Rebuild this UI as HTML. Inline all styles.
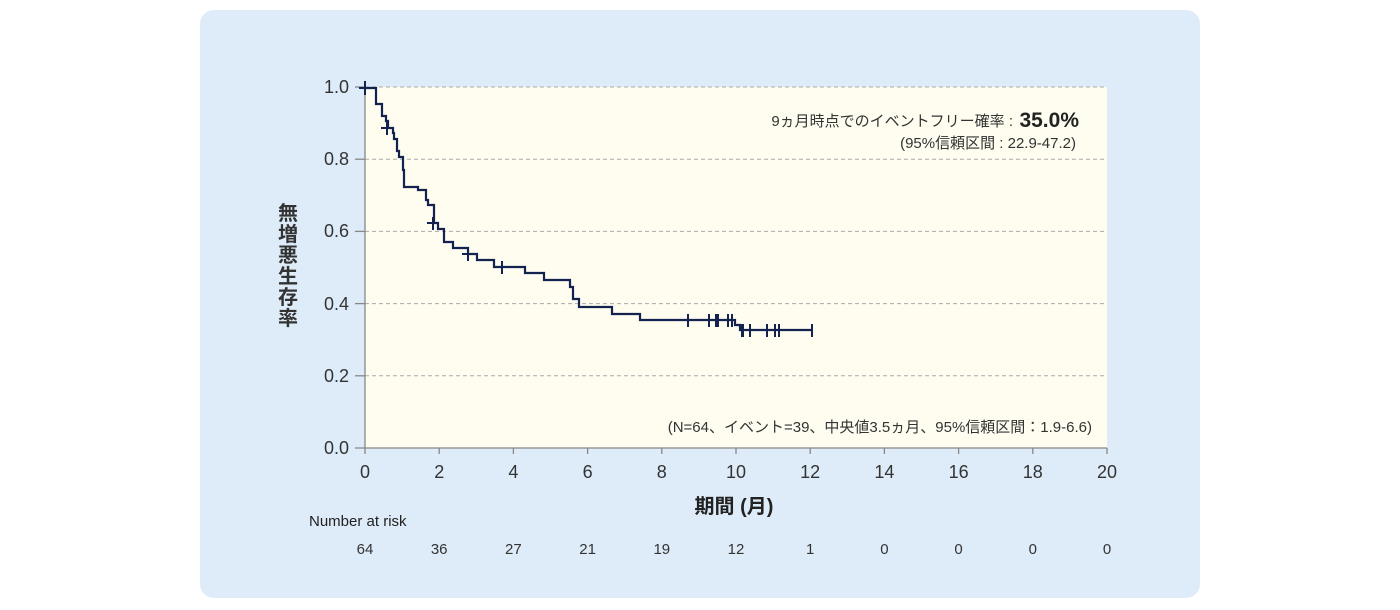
<!DOCTYPE html>
<html><head><meta charset="utf-8"><style>
html,body{margin:0;padding:0;background:#fff;}
svg{display:block;}
text{font-family:"Liberation Sans","Noto Sans CJK JP",sans-serif;fill:#333;}
</style></head><body>
<svg width="1400" height="610" viewBox="0 0 1400 610" xmlns="http://www.w3.org/2000/svg">
<rect x="200" y="10" width="1000" height="588" rx="14" fill="#deebf8"/>
<rect x="365" y="87" width="742" height="361" fill="#fefdf0"/>
<g stroke="#aaa" stroke-width="1" stroke-dasharray="4,3">
<line x1="365" y1="87" x2="1107" y2="87"/>
<line x1="365" y1="159.2" x2="1107" y2="159.2"/>
<line x1="365" y1="231.4" x2="1107" y2="231.4"/>
<line x1="365" y1="303.6" x2="1107" y2="303.6"/>
<line x1="365" y1="375.8" x2="1107" y2="375.8"/>
</g>
<g stroke="#888" stroke-width="1.3">
<line x1="365" y1="87" x2="365" y2="448"/>
<line x1="355" y1="448" x2="1107" y2="448"/>
<line x1="355" y1="87" x2="365" y2="87"/><line x1="355" y1="159.2" x2="365" y2="159.2"/><line x1="355" y1="231.4" x2="365" y2="231.4"/><line x1="355" y1="303.6" x2="365" y2="303.6"/><line x1="355" y1="375.8" x2="365" y2="375.8"/>
<line x1="365" y1="448" x2="365" y2="454"/><line x1="439.2" y1="448" x2="439.2" y2="454"/><line x1="513.4" y1="448" x2="513.4" y2="454"/><line x1="587.6" y1="448" x2="587.6" y2="454"/><line x1="661.8" y1="448" x2="661.8" y2="454"/><line x1="736" y1="448" x2="736" y2="454"/><line x1="810.2" y1="448" x2="810.2" y2="454"/><line x1="884.4" y1="448" x2="884.4" y2="454"/><line x1="958.6" y1="448" x2="958.6" y2="454"/><line x1="1032.8" y1="448" x2="1032.8" y2="454"/><line x1="1107" y1="448" x2="1107" y2="454"/>
</g>
<g font-size="18" text-anchor="end">
<text x="349" y="93">1.0</text><text x="349" y="165">0.8</text><text x="349" y="237">0.6</text><text x="349" y="310">0.4</text><text x="349" y="382">0.2</text><text x="349" y="454">0.0</text>
</g>
<g font-size="18" text-anchor="middle">
<text x="365" y="478">0</text><text x="439.2" y="478">2</text><text x="513.4" y="478">4</text><text x="587.6" y="478">6</text><text x="661.8" y="478">8</text><text x="736" y="478">10</text><text x="810.2" y="478">12</text><text x="884.4" y="478">14</text><text x="958.6" y="478">16</text><text x="1032.8" y="478">18</text><text x="1107" y="478">20</text>
</g>
<text x="734" y="513" font-size="20" font-weight="bold" text-anchor="middle" style="fill:#222">期間 (月)</text>
<g font-size="20" font-weight="bold" text-anchor="middle" style="fill:#222">
<text x="288" y="220">無</text><text x="288" y="241">増</text><text x="288" y="262">悪</text><text x="288" y="283">生</text><text x="288" y="304">存</text><text x="288" y="325">率</text>
</g>
<text x="309" y="526" font-size="15" style="fill:#222">Number at risk</text>
<g font-size="15" text-anchor="middle">
<text x="365" y="554">64</text><text x="439.2" y="554">36</text><text x="513.4" y="554">27</text><text x="587.6" y="554">21</text><text x="661.8" y="554">19</text><text x="736" y="554">12</text><text x="810.2" y="554">1</text><text x="884.4" y="554">0</text><text x="958.6" y="554">0</text><text x="1032.8" y="554">0</text><text x="1107" y="554">0</text>
</g>
<text x="1013" y="126" font-size="15" text-anchor="end">9ヵ月時点でのイベントフリー確率 :</text>
<text x="1079" y="127" font-size="21" font-weight="bold" text-anchor="end" style="fill:#222">35.0%</text>
<text x="1076" y="148" font-size="15" text-anchor="end">(95%信頼区間 : 22.9-47.2)</text>
<text x="1092" y="432" font-size="15" text-anchor="end">(N=64、イベント=39、中央値3.5ヵ月、95%信頼区間：1.9-6.6)</text>
<path fill="none" stroke="#13224f" stroke-width="2.2" d="M365,88 H376 V104 H382 V116 H386 V121 H388 V128 H393 V133 H394 V139 H397 V151 H399 V157 H403 V170 H404 V187 H418 V190 H426 V200 H428 V205 H434 V223 H438 V229 H444 V242 H453 V248 H468 V254 H477 V260 H494 V267 H525 V273 H544 V280 H570 V287 H573 V299 H579 V307 H612 V314 H640 V320 H735 V325 H740 V330 H813"/>
<g stroke="#13224f" stroke-width="2">
<path d="M365,81V95M359,88H371"/>
<path d="M387,122V135M381,128H393"/>
<path d="M433,217V230M427,223H439"/>
<path d="M468,248V261M462,254H474"/>
<path d="M502,261V274M496,267H508"/>
<path d="M688,314V327M709,314V327M716,314V327M718,314V327M728,314V327M732,314V327M742,324V337M743,324V337M750,324V337M767,324V337M775,324V337M779,324V337M812,324V337"/>
</g>
</svg>
</body></html>
